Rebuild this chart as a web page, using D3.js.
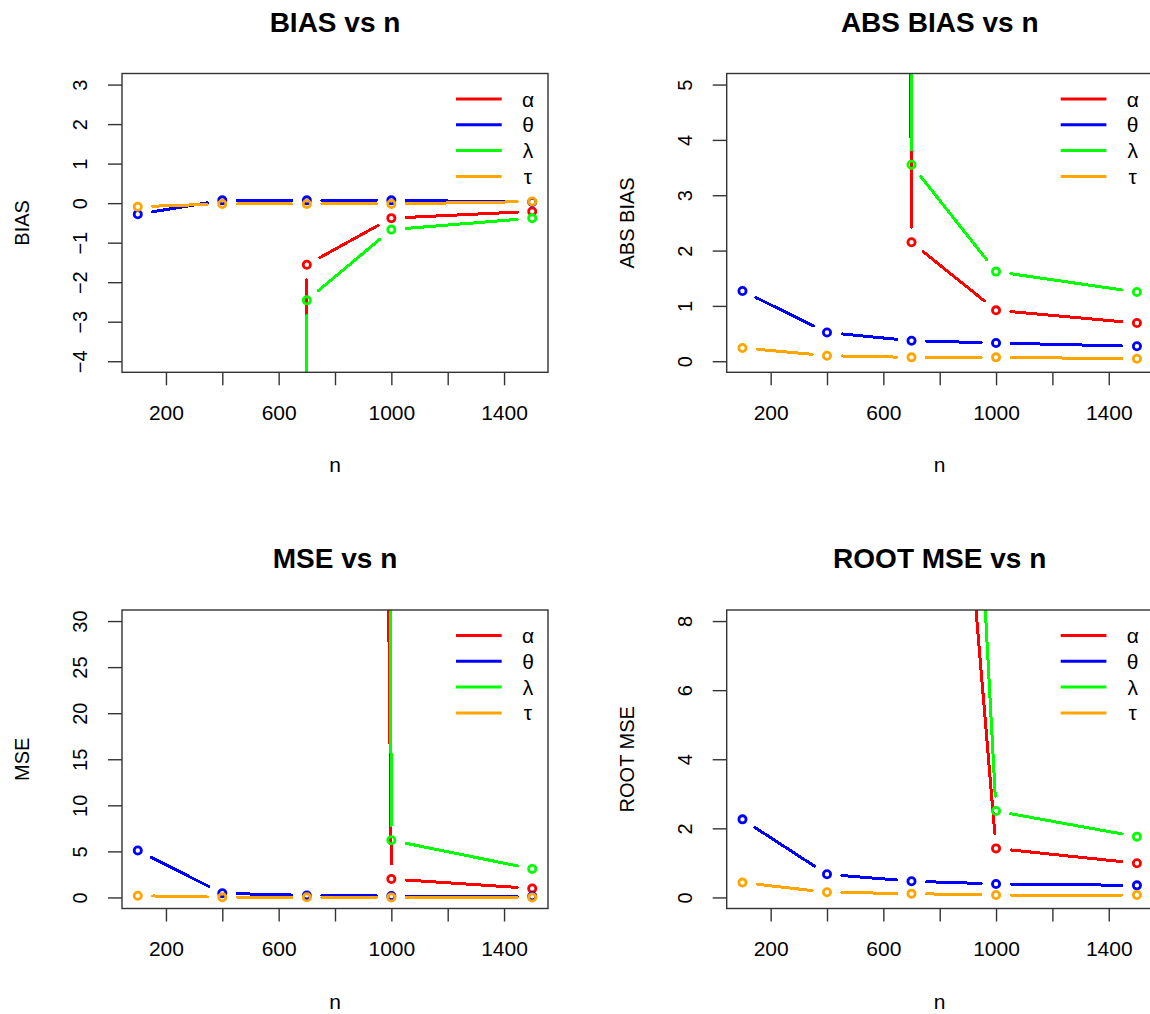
<!DOCTYPE html>
<html>
<head>
<meta charset="utf-8">
<script src="https://cdn.jsdelivr.net/npm/d3@7"></script>
<style>
  body { margin: 0; background: #fff; }
  svg { display: block; }
  text { font-family: "Liberation Sans", Arial, sans-serif; fill: #000; }
</style>
</head>
<body>
<svg id="chart" width="1150" height="1014"></svg>
<script>
// Sample sizes on the x axis
const sampleSizes = [100, 400, 700, 1000, 1500];

// Parameters, in legend / drawing order
const paramNames = ["α", "θ", "λ", "τ"];
const paramColors = ["#ff0000", "#0000ff", "#00ff00", "#ffa500"];

// BIAS (α and λ diverge to very large negative values for small n)
const biasAlpha  = [-820, -310, -1.56, -0.38, -0.21];
const biasTheta  = [-0.28, 0.07, 0.07, 0.07, 0.03];
const biasLambda = [-1450, -560, -2.46, -0.67, -0.38];
const biasTau    = [-0.09, -0.02, -0.02, -0.02, 0.04];

// ABS BIAS
const absBiasAlpha  = [825, 312, 2.15, 0.92, 0.69];
const absBiasTheta  = [1.27, 0.52, 0.37, 0.33, 0.27];
const absBiasLambda = [1460, 563, 3.55, 1.62, 1.25];
const absBiasTau    = [0.24, 0.10, 0.07, 0.07, 0.045];

// MSE
const mseAlpha  = [720000, 110000, 930, 2.0, 0.98];
const mseTheta  = [5.1, 0.45, 0.22, 0.15, 0.12];
const mseLambda = [2300000, 340000, 2340, 6.2, 3.1];
const mseTau    = [0.19, 0.022, 0.012, 0.005, 0.005];

// ROOT MSE
const rmseAlpha  = [850, 330, 30.5, 1.42, 0.99];
const rmseTheta  = [2.26, 0.67, 0.47, 0.39, 0.35];
const rmseLambda = [1520, 585, 48.4, 2.50, 1.76];
const rmseTau    = [0.43, 0.15, 0.11, 0.07, 0.07];

// Axis ticks
const xTicks = [200, 400, 600, 800, 1000, 1200, 1400];
const xLabelled = [200, 600, 1000, 1400];
const biasTicks = [-4, -3, -2, -1, 0, 1, 2, 3];
const absBiasTicks = [0, 1, 2, 3, 4, 5];
const mseTicks = [0, 5, 10, 15, 20, 25, 30];
const rmseTicks = [0, 2, 4, 6, 8];

const panels = [
  { title: "BIAS vs n", ylab: "BIAS", ylim: [-4, 3], ticks: biasTicks,
    series: [biasAlpha, biasTheta, biasLambda, biasTau],
    box: { left: 122, right: 548, top: 73.5, bottom: 372.3 } },
  { title: "ABS BIAS vs n", ylab: "ABS BIAS", ylim: [0, 5], ticks: absBiasTicks,
    series: [absBiasAlpha, absBiasTheta, absBiasLambda, absBiasTau],
    box: { left: 726.7, right: 1152.7, top: 73.5, bottom: 372.3 } },
  { title: "MSE vs n", ylab: "MSE", ylim: [0, 30], ticks: mseTicks,
    series: [mseAlpha, mseTheta, mseLambda, mseTau],
    box: { left: 122, right: 548, top: 610, bottom: 908.5 } },
  { title: "ROOT MSE vs n", ylab: "ROOT MSE", ylim: [0, 8], ticks: rmseTicks,
    series: [rmseAlpha, rmseTheta, rmseLambda, rmseTau],
    box: { left: 726.7, right: 1152.7, top: 610, bottom: 908.5 } }
];

const svg = d3.select("#chart");

// R-style 4% axis extension
function extend(lim) {
  const d = (lim[1] - lim[0]) * 0.04;
  return [lim[0] - d, lim[1] + d];
}

const LINE_GAP = 15;   // gap left around each point (type = "b")

panels.forEach((p, pi) => {
  const b = p.box;
  const x = d3.scaleLinear().domain(extend(d3.extent(sampleSizes))).range([b.left, b.right]);
  const y = d3.scaleLinear().domain(extend(p.ylim)).range([b.bottom, b.top]);
  const g = svg.append("g");

  const clipId = "clip" + pi;
  svg.append("clipPath").attr("id", clipId).append("rect")
    .attr("x", b.left).attr("y", b.top)
    .attr("width", b.right - b.left).attr("height", b.bottom - b.top);

  const plot = g.append("g").attr("clip-path", `url(#${clipId})`);

  p.series.forEach((vals, si) => {
    const pts = sampleSizes.map((n, i) => [x(n), y(vals[i])]);
    const segs = [];
    for (let i = 0; i < pts.length - 1; i++) {
      const [x0, y0] = pts[i], [x1, y1] = pts[i + 1];
      const dx = x1 - x0, dy = y1 - y0, len = Math.hypot(dx, dy);
      if (len > 2 * LINE_GAP) {
        const ux = dx / len, uy = dy / len;
        segs.push([[x0 + ux * LINE_GAP, y0 + uy * LINE_GAP], [x1 - ux * LINE_GAP, y1 - uy * LINE_GAP]]);
      }
    }
    plot.selectAll(null).data(segs).enter().append("line")
      .attr("x1", d => d[0][0]).attr("y1", d => d[0][1])
      .attr("x2", d => d[1][0]).attr("y2", d => d[1][1])
      .attr("stroke", paramColors[si]).attr("stroke-width", 3)
      .attr("stroke-linecap", "round")
      .attr("shape-rendering", "crispEdges");
    plot.selectAll(null).data(sampleSizes).enter().append("circle")
      .attr("cx", (n) => x(n)).attr("cy", (n, i) => y(vals[i]))
      .attr("r", 3.6).attr("fill", "none")
      .attr("stroke", paramColors[si]).attr("stroke-width", 2.8);
  });

  // plot frame
  g.append("rect")
    .attr("x", b.left).attr("y", b.top)
    .attr("width", b.right - b.left).attr("height", b.bottom - b.top)
    .attr("fill", "none").attr("stroke", "#333").attr("stroke-width", 1.4);

  // x axis
  const xa = g.append("g").attr("transform", `translate(0,${b.bottom})`)
    .call(d3.axisBottom(x).tickValues(xTicks).tickSize(13)
      .tickFormat(d => xLabelled.includes(d) ? d : ""));
  xa.select(".domain").remove();
  xa.selectAll(".tick line").attr("stroke", "#333").attr("stroke-width", 1.4);
  xa.selectAll(".tick text")
    .attr("y", 40.4).attr("dy", null).attr("dominant-baseline", "central")
    .attr("font-size", 21).attr("fill", "#000");

  // y axis
  const ya = g.append("g").attr("transform", `translate(${b.left},0)`)
    .call(d3.axisLeft(y).tickValues(p.ticks).tickSize(14).tickFormat(d3.format("d")));
  ya.select(".domain").remove();
  ya.selectAll(".tick line").attr("stroke", "#333").attr("stroke-width", 1.4);
  ya.selectAll(".tick text")
    .attr("x", 0).attr("dy", null)
    .attr("transform", "translate(-42,0) rotate(-90)")
    .attr("text-anchor", "middle").attr("dominant-baseline", "central")
    .attr("font-size", 20).attr("fill", "#000");

  const cx = (b.left + b.right) / 2;
  // title
  g.append("text").attr("x", cx).attr("y", b.top - 51.5)
    .attr("text-anchor", "middle").attr("dominant-baseline", "central")
    .attr("font-size", 28).attr("font-weight", "bold").text(p.title);
  // x label
  g.append("text").attr("x", cx).attr("y", b.bottom + 100)
    .attr("text-anchor", "middle").attr("font-size", 21).text("n");
  // y label
  g.append("text")
    .attr("transform", `translate(${b.left - 100},${(b.top + b.bottom) / 2}) rotate(-90)`)
    .attr("text-anchor", "middle").attr("dominant-baseline", "central")
    .attr("font-size", 20).text(p.ylab);

  // legend (no frame)
  const lg = g.append("g");
  paramNames.forEach((nm, i) => {
    const ly = b.top + 25.5 + i * 25.8;
    lg.append("line")
      .attr("x1", b.right - 92).attr("x2", b.right - 46.3)
      .attr("y1", ly).attr("y2", ly)
      .attr("stroke", paramColors[i]).attr("stroke-width", 3);
    lg.append("text").attr("x", b.right - 20).attr("y", ly)
      .attr("text-anchor", "middle").attr("dominant-baseline", "central")
      .attr("font-size", 21).text(nm);
  });
});
</script>
</body>
</html>
